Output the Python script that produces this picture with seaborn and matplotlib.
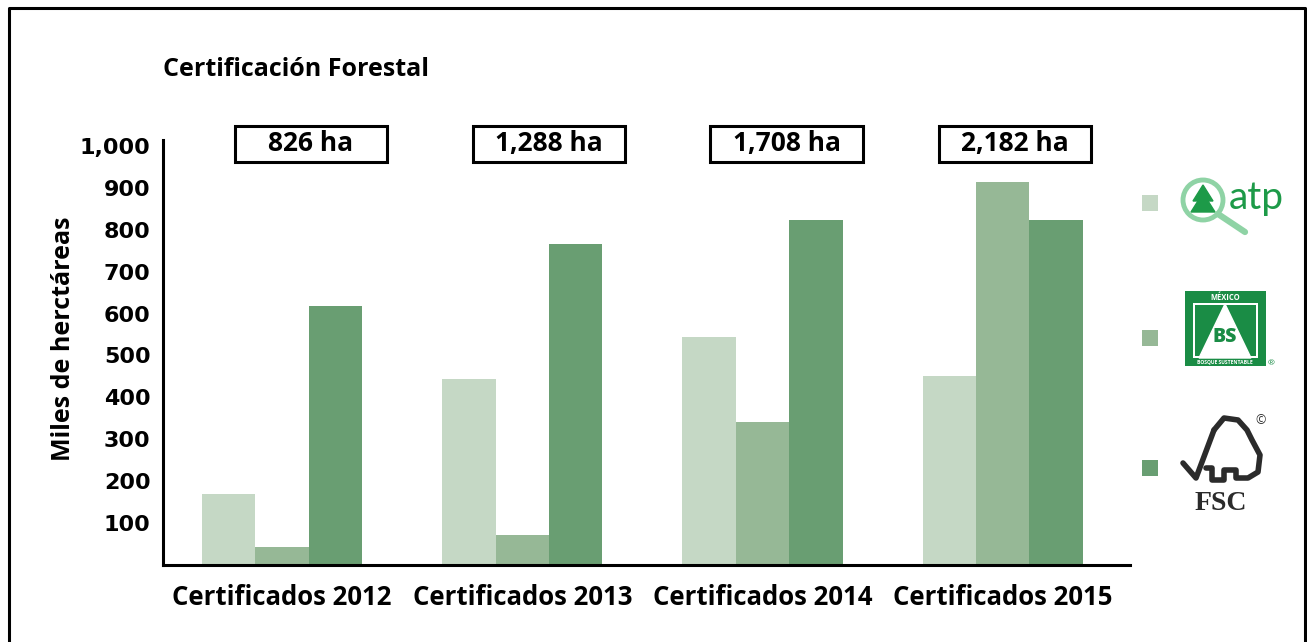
import numpy as np
import pandas as pd
import matplotlib.pyplot as plt
import seaborn as sns
from matplotlib.patches import Rectangle, Circle, Polygon

# data (miles de hectareas)
years = ['Certificados 2012', 'Certificados 2013', 'Certificados 2014', 'Certificados 2015']
certs = ['ATP', 'BS', 'FSC']
atp_vals = [169, 443, 543, 450]
bs_vals = [43, 71, 340, 914]
fsc_vals = [617, 767, 824, 824]
totals = ['826 ha', '1,288 ha', '1,708 ha', '2,182 ha']
box_shift = [0.12, 0.11, 0.10, 0.05]
yticks = [100, 200, 300, 400, 500, 600, 700, 800, 900, 1000]
colors = ['#c5d8c5', '#96b896', '#699e72']

df = pd.DataFrame({
    'year': years * 3,
    'cert': [c for c in certs for _ in years],
    'value': atp_vals + bs_vals + fsc_vals,
})

sns.set_style('white')
plt.rcParams['font.family'] = ['Open Sans', 'DejaVu Sans']
plt.rcParams['text.color'] = 'black'
plt.rcParams['axes.labelcolor'] = 'black'
plt.rcParams['xtick.color'] = 'black'
plt.rcParams['ytick.color'] = 'black'

fig = plt.figure(figsize=(13.07, 6.42), dpi=100)
W, H = 1307, 642
ax = fig.add_axes([163 / W, 1 - 565 / H, (1130 - 163) / W, (565 - 140) / H])

sns.barplot(data=df, x='year', y='value', hue='cert', palette=colors,
            width=0.667, saturation=1, legend=False, ax=ax, errorbar=None,
            linewidth=0)

ax.set_xlim(-0.496, 3.53)
ax.set_ylim(0, 1014)
ax.set_yticks(yticks)
ax.set_yticklabels([f'{v:,}' for v in yticks], fontsize=16, fontweight='bold',
                   family=['DejaVu Sans'])
ax.set_xticks(range(len(years)))
ax.set_xticklabels(years, fontsize=18.5, fontweight='bold')
ax.tick_params(axis='y', length=0, pad=9)
ax.tick_params(axis='x', length=0, pad=14)
ax.set_xlabel('')
ax.set_ylabel('Miles de herctáreas', fontsize=18, fontweight='bold')
ax.yaxis.set_label_coords(-0.09, 0.532)
for s in ['top', 'right']:
    ax.spines[s].set_visible(False)
for s in ['left', 'bottom']:
    ax.spines[s].set_linewidth(2.2)
    ax.spines[s].set_color('black')

# total boxes above each group
for i, t in enumerate(totals):
    cx = i + box_shift[i]
    ax.add_patch(Rectangle((cx - 0.317, 962), 0.634, 86, fill=False,
                           lw=2.2, edgecolor='black', clip_on=False))
    ax.text(cx, 1005, t, ha='center', va='center', fontsize=19,
            fontweight='bold', clip_on=False)

# overlay in pixel coords for frame, title and legend
ov = fig.add_axes([0, 0, 1, 1], facecolor='none')
ov.set_xlim(0, W)
ov.set_ylim(H, 0)
ov.axis('off')

ov.plot([9, 9, 1305, 1305], [H + 5, 8, 8, H + 5], color='black', lw=2.2)
ov.text(163, 70, 'Certificación Forestal', fontsize=18, fontweight='bold',
        va='center', ha='left')

# legend squares
for c, yy in zip(colors, [203, 338, 468]):
    ov.add_patch(Rectangle((1142, yy - 8), 16, 16, color=c, lw=0))

# atp logo
ov.add_patch(Circle((1203, 200), 20, fill=False, lw=3.5, edgecolor='#8fd3a5'))
ov.plot([1218, 1245], [214, 232], color='#8fd3a5', lw=4.5, solid_capstyle='round')
ov.add_patch(Polygon([[1203, 185], [1193, 201], [1213, 201]], color='#1d9a48'))
ov.add_patch(Polygon([[1203, 193], [1191, 212], [1215, 212]], color='#1d9a48'))
ov.text(1256, 198, 'atp', fontsize=28, color='#1d9a48', ha='center',
        va='center', family=['Lato', 'DejaVu Sans'])

# BS logo
ov.add_patch(Rectangle((1185, 291), 81, 75, color='#1a8c45', lw=0))
ov.add_patch(Rectangle((1193, 303), 65, 55, color='white', lw=0))
ov.add_patch(Rectangle((1195, 305), 61, 51, color='#1a8c45', lw=0))
ov.add_patch(Polygon([[1225, 304], [1199, 358], [1251, 358]], color='white'))
ov.text(1225, 297, 'MÉXICO', fontsize=5.5, color='white', ha='center',
        va='center', fontweight='bold')
ov.text(1225, 337, 'BS', fontsize=14, color='#1a8c45', ha='center',
        va='center', fontweight='heavy')
ov.text(1225, 362, 'BOSQUE SUSTENTABLE', fontsize=3.6, color='white',
        ha='center', va='center', fontweight='bold')
ov.text(1271, 364, '®', fontsize=6, color='#1a8c45', ha='center', va='center')

# FSC logo
ov.plot([1183, 1196, 1214], [463, 478, 430], color='#2b2b2b', lw=4,
        solid_joinstyle='round', solid_capstyle='round')
tree_x = [1214, 1224, 1238, 1247, 1252, 1260, 1258, 1248, 1236, 1236, 1224, 1224, 1212, 1212, 1206]
tree_y = [430, 418, 420, 430, 440, 455, 472, 478, 478, 470, 470, 480, 480, 468, 468]
ov.plot(tree_x, tree_y, color='#2b2b2b', lw=4, solid_joinstyle='round',
        solid_capstyle='round')
ov.text(1221, 503, 'FSC', fontsize=20, color='#2b2b2b', ha='center',
        va='center', fontweight='bold', family=['Liberation Serif', 'DejaVu Serif'])
ov.text(1261, 421, '©', fontsize=9, color='#2b2b2b', ha='center', va='center')

fig.savefig('out.png', dpi=100)
